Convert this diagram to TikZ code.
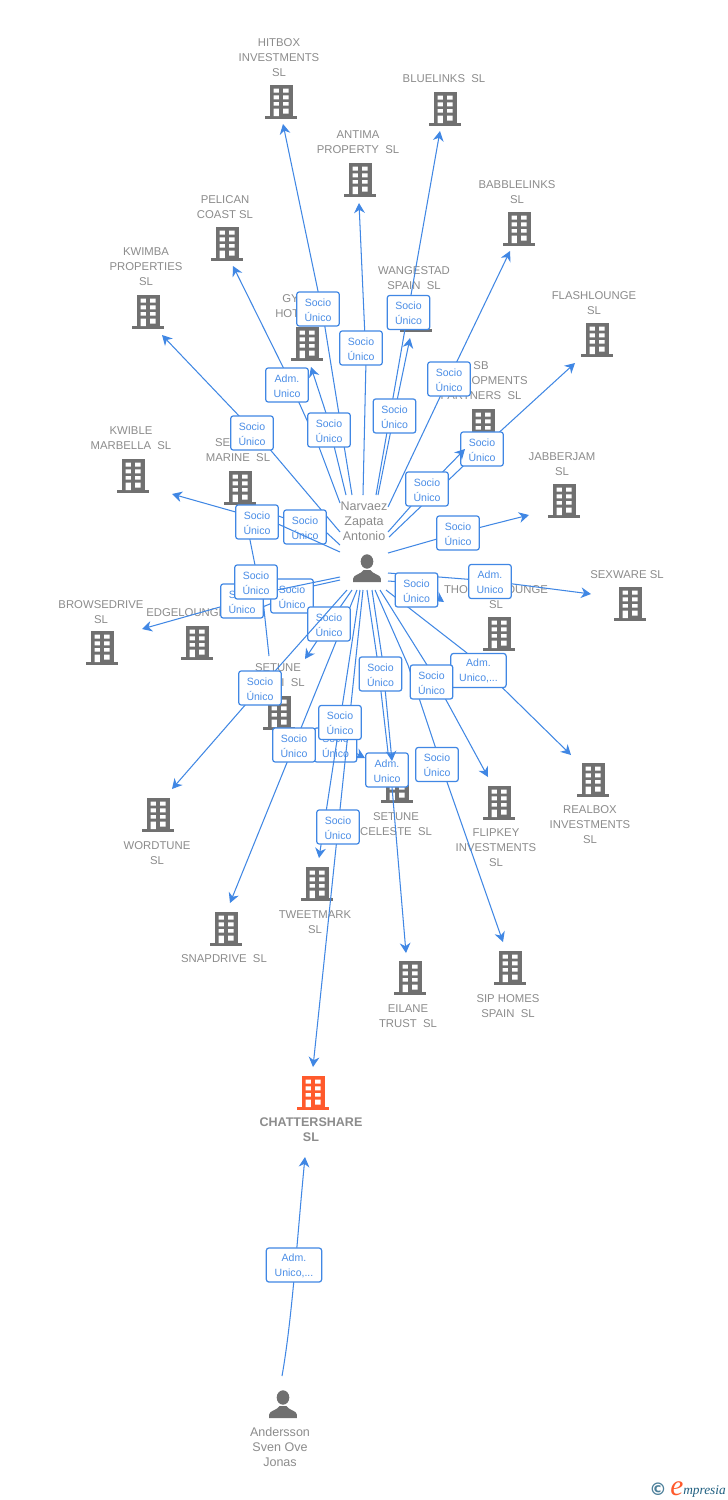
\documentclass[tikz,border=0pt]{standalone}
\usepackage{fontspec}
\setmainfont{Liberation Sans}
\newfontfamily\dejavu{DejaVu Sans}
\newfontfamily\lserif{Liberation Serif}
\usetikzlibrary{arrows.meta}
\definecolor{linkblue}{HTML}{4087E4}
\definecolor{labblue}{HTML}{4A8DE6}
\definecolor{iconGray}{HTML}{707070}
\definecolor{txtGray}{HTML}{8C8C8C}
\definecolor{accent}{HTML}{FF5A2C}
\definecolor{logoBlue}{HTML}{1F5F80}
\tikzset{
  x=0.75pt,y=-0.75pt,
  link/.style={draw=linkblue,line width=0.78pt,line join=round},
  tip/.style={link,-{Stealth[length=7.5pt,width=8pt,inset=2.4pt]}},
  labbox/.style={draw=linkblue,fill=white,rounded corners=2pt,line width=0.9pt,
    minimum width=32pt,minimum height=25.6pt,inner sep=0pt,align=center,text=labblue,
    text height=18.2pt,font=\fontsize{7.9}{11.25}\selectfont},
  labwide/.style={labbox,minimum width=41.5pt},
  bname/.style={inner sep=0pt,align=center,text=txtGray,yshift=-0.7pt,font=\fontsize{8.5}{11.25}\selectfont},
  pname/.style={inner sep=0pt,align=center,text=txtGray,font=\fontsize{9.4}{11.25}\selectfont},
  bldg/.pic={
    \fill[pic actions] (-11.5,-34) rectangle (11.5,0);
    \fill[pic actions] (-16,-3) rectangle (16,0);
    \fill[white] (-7.5,-30.5) rectangle (-2.2,-26.3) (2.2,-30.5) rectangle (7.5,-26.3)
      (-7.5,-23.7) rectangle (-2.2,-19.7) (2.2,-23.7) rectangle (7.5,-19.7)
      (-7.5,-17) rectangle (-2.2,-13.3) (2.2,-17) rectangle (7.5,-13.3)
      (-7.5,-10.5) rectangle (-2.2,-3) (2.2,-10.5) rectangle (7.5,-5.5);
  },
  man/.pic={
    \fill[pic actions] (0,-20.5) ellipse [x radius=6.3,y radius=7.2];
    \fill[pic actions] (-13.8,0) -- (-13.8,-3.5) .. controls (-13.8,-7.5) and (-6,-7.5) .. (-3.5,-12) -- (3.5,-12)
      .. controls (6,-7.5) and (13.8,-7.5) .. (13.8,-3.5) -- (13.8,0) -- cycle;
  },
}
\newcommand\Edge[4]{\coordinate (s#1) at (#2);\coordinate (m#1) at (#3);\coordinate (e#1) at (#4);
  \draw[tip] (s#1) -- (m#1) -- (e#1);}
\newcommand\Soc[2]{\node[labbox] (l#1) at (#2) {Socio\\Único};}
\newcommand\Adm[2]{\node[labbox] (l#1) at (#2) {Adm.\\Unico};}
\newcommand\Bld[2]{\pic[iconGray] at (#2) {bldg};\coordinate (b#1) at (#2);}
\begin{document}
\begin{tikzpicture}
\useasboundingbox (0,0) rectangle (728,1500);
\fill[white] (0,0) rectangle (728,1500);
% buildings
\Bld{hit}{281,119}
\Bld{blue}{445,126}
\Bld{ant}{360,197}
\Bld{bab}{519,246}
\Bld{pel}{227,261}
\Bld{kwi}{148,329}
\Bld{wan}{416,332}
\Bld{fla}{597,357}
\Bld{gy}{307,361}
\Bld{sb}{483,443}
\Bld{jab}{564,518}
\Bld{kwb}{133,493}
\Bld{mar}{240,505}
\Bld{sex}{630,621}
\Bld{bro}{102,665}
\Bld{edg}{197,660}
\Bld{tho}{499,651}
\Bld{seti}{279,730}
\Bld{wor}{158,832}
\Bld{rea}{593,797}
\Bld{cel}{397,803}
\Bld{fli}{499,820}
\Bld{twe}{317,901}
\Bld{sna}{226,946}
\Bld{eil}{410,995}
\Bld{sip}{510,985}
\pic[accent] at (313,1110) {bldg};
\coordinate (bcha) at (313,1110);
% names
\node[bname] (n1) at (279,57) {HITBOX\\INVESTMENTS\\SL};
\node[bname] (n2) at (444,78) {BLUELINKS\ \ SL};
\node[bname] (n3) at (358,141) {ANTIMA\\PROPERTY\ \ SL};
\node[bname] (n4) at (517,191) {BABBLELINKS\\SL};
\node[bname] (n5) at (225,206) {PELICAN\\COAST SL};
\node[bname] (n6) at (146,266) {KWIMBA\\PROPERTIES\\SL};
\node[bname] (n7) at (414,277) {WANGESTAD\\SPAIN\ \ SL};
\node[bname] (n8) at (594,302) {FLASHLOUNGE\\SL};
\node[bname,anchor=west] (n9) at (282,298) {GY};
\node[bname,anchor=west] (n9b) at (275,313) {HOT};
\node[bname] (n10) at (481,380) {SB\\DEVELOPMENTS\\PARTNERS\ \ SL};
\node[bname] (n11) at (562,463) {JABBERJAM\\SL};
\node[bname] (n12) at (131,437) {KWIBLE\\MARBELLA\ \ SL};
\node[bname] (n13) at (238,449) {SETUNE\\MARINE\ \ SL};
\node[bname] (n14) at (627,574) {SEXWARE SL};
\node[bname] (n15) at (101,611) {BROWSEDRIVE\\SL};
\node[bname,anchor=west] (n16) at (146,612) {EDGELOUNGE\ \ SL};
\node[bname] (n17) at (496,596) {THOUGHTLOUNGE\\SL};
\node[bname] (n18) at (278,667) {SETUNE};
\node[bname,anchor=east] (n18b) at (305,682) {I\ \ SL};
\node[bname] (n19) at (157,852) {WORDTUNE\\SL};
\node[bname] (n20) at (590,824) {REALBOX\\INVESTMENTS\\SL};
\node[bname] (n21) at (396,823) {SETUNE\\CELESTE\ \ SL};
\node[bname] (n22) at (496,847) {FLIPKEY\\INVESTMENTS\\SL};
\node[bname] (n23) at (315,921) {TWEETMARK\\SL};
\node[bname] (n24) at (224,958) {SNAPDRIVE\ \ SL};
\node[bname] (n25) at (408,1015) {EILANE\\TRUST\ \ SL};
\node[bname] (n26) at (508,1005) {SIP HOMES\\SPAIN\ \ SL};
\node[bname,text=txtGray,font=\fontsize{9.4}{11.25}\selectfont\bfseries] (n27) at (311,1129) {CHATTERSHARE\\SL};
% persons
\pic[iconGray] at (367,582) {man};
\node[pname] (narv) at (364,521) {Narvaez\\Zapata\\Antonio};
\pic[iconGray] at (283,1418) {man};
\node[pname] (ande) at (280,1447) {Andersson\\Sven Ove\\Jonas};
% connectors
\Edge{a}{352,495}{323,315}{283,124}
\coordinate (sb) at (340,503);\coordinate (m1b) at (283,367);\coordinate (m2b) at (319,447);\coordinate (eb) at (233,266);
\draw[tip] (sb) -- (m2b) -- (m1b) -- (eb);
\Adm{pel}{287,385}
\Edge{c}{346,495}{326,413}{311,367}
\Soc{gy}{329,430}
\Soc{hit}{318,309}
\Edge{d}{363,495}{366,360}{359,203}
\Soc{ant}{361,348}
\Edge{e}{376,495}{408,312}{440,131}
\Soc{blue}{408.5,312.5}
\Edge{f}{378,495}{394,415}{410,338}
\Soc{wan}{394.5,416}
\Edge{g}{388,507}{449,378}{510,251}
\Soc{bab}{449,379}
\Edge{h}{389,537}{481,449}{575,363}
\Soc{fla}{482,449}
\Edge{i}{388,532}{426,489}{465,449}
\Soc{sb}{427,489}
\Edge{j}{388,553}{458,533}{529,515}
\Soc{jab}{458,533}
\Edge{k}{340,532}{262,440}{162,335}
\Soc{kwi}{252,433}
% Setune Marine pieces
\coordinate (sm) at (340,545);\coordinate (m3m) at (327,533);\coordinate (m4m) at (284,518);\coordinate (em) at (262,510);
\draw[link] (sm) -- (m3m) -- (m4m) -- (em);
\Soc{mar}{305,527}
\Edge{l}{340,552}{278,524}{172,494}
\coordinate (sn) at (248,530);\coordinate (m5n) at (256,570);\coordinate (m6n) at (263,600);\coordinate (en) at (269,656);
\draw[link] (sn) -- (m5n) -- (m6n) -- (en);
\Soc{kwb}{257,522}
% left side
\coordinate (so) at (340,580);\coordinate (m7o) at (313,586);\coordinate (m8o) at (265,606);\coordinate (eo) at (245,612);
\draw[link] (so) -- (m7o) -- (m8o) -- (eo);
\Soc{edg}{292,596}
\coordinate (sp) at (340,577);\coordinate (m9p) at (277,590);\coordinate (m10p) at (220,607);\coordinate (ep) at (142,629);
\draw[tip] (sp) -- (m9p) -- (m10p) -- (ep);
\Soc{bro}{242,601}
\Soc{ext}{256,582}
% lower left
\Edge{q}{352,590}{329,623}{305,659}
\coordinate (sr) at (357,590);\coordinate (er) at (230,903);
\draw[tip] (sr) -- (er);
\Soc{set}{329,624}
\Edge{s}{347,590}{260,688}{172,789}
\Soc{wor}{260,688}
% hidden box row
\Edge{t}{305,730}{335,742}{365,758}
\node[labbox] (lcel) at (335.5,745) {Socio\\Único};
\coordinate (su) at (360,590);\coordinate (eu) at (319,858);
\draw[tip] (su) -- (eu);
\coordinate (sv) at (363,590);\coordinate (ev) at (313,1067);
\draw[tip] (sv) -- (ev);
\Soc{twe}{340,722.5}
\Soc{sna}{294,745}
\Soc{cha}{338,827}
% lower middle
\coordinate (sw) at (367,590);\coordinate (m11w) at (377,657);\coordinate (m12w) at (392,787);\coordinate (ew) at (406,953);
\draw[tip] (sw) -- (m11w) -- (m12w) -- (ew);
\Adm{eil}{387,770}
\coordinate (sx) at (372,590);\coordinate (m13x) at (382,657);\coordinate (ex) at (392,761);
\draw[tip] (sx) -- (m13x) -- (ex);
\Soc{cel2}{380.5,674}
% lower right
\coordinate (sy) at (386,590);\coordinate (m14y) at (467,653);\coordinate (ey) at (571,755);
\draw[tip] (sy) -- (m14y) -- (ey);
\node[labwide] (lrea) at (478.5,670.5) {Adm.\\Unico,...};
\coordinate (sz) at (375,590);\coordinate (m15z) at (408,665);\coordinate (m16z) at (447,782);\coordinate (ez) at (503,942);
\draw[tip] (sz) -- (m15z) -- (m16z) -- (ez);
\Soc{sip}{437,764.5}
\Edge{ff}{380,590}{427,665}{488,777}
\Soc{fli}{431.5,682}
\Edge{sx2}{388,573}{490,581}{591,594}
\node[labbox] (lsex) at (490,581.5) {Adm.\\Unico};
\Edge{th}{388,581}{416,583}{444,602}
\Soc{tho}{416.5,590}
% Andersson
\coordinate (sa) at (282,1376);\coordinate (ea) at (305,1157);
\draw[tip] (sa) .. controls (292,1320) and (297,1240) .. (ea);
\node[labwide] (land) at (294,1265) {Adm.\\Unico,...};
% logo
\node[inner sep=0pt,text=logoBlue!80,font=\dejavu\bfseries\fontsize{13}{14}\selectfont] (cr) at (658,1489) {©};
\node[inner sep=0pt,anchor=base west,text=accent,font=\lserif\itshape\fontsize{22}{24}\selectfont] (lge) at (670,1495) {e};
\node[inner sep=0pt,anchor=base west,text=logoBlue,font=\lserif\itshape\fontsize{10}{12}\selectfont] (lgt) at (683,1494) {mpresia};
\end{tikzpicture}
\end{document}
